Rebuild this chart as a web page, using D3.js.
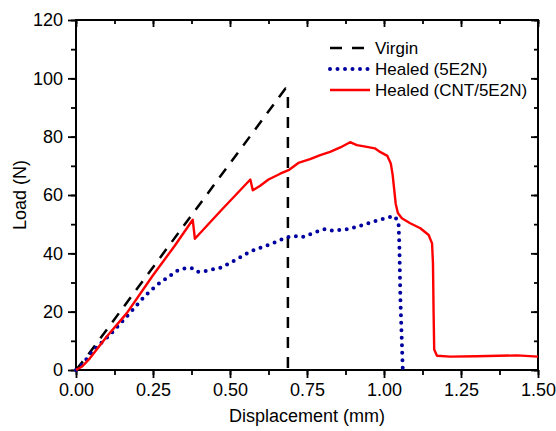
<!DOCTYPE html>
<html>
<head>
<meta charset="utf-8">
<script src="https://cdn.jsdelivr.net/npm/d3@7"></script>
<style>
  body { margin: 0; background: #fff; }
  text { font-family: "Liberation Sans", Arial, sans-serif; }
</style>
</head>
<body>
<div id="chart"></div>
<script>
// data: [displacement mm, load N]
var virgin = [[0, 0], [0.04, 5.3], [0.68, 96.5], [0.688, 95], [0.688, 0]];

var healed5E2N = [[0, 0], [0.018, 1.7], [0.062, 7.4], [0.11, 12], [0.154, 17.1], [0.188, 21.1],
  [0.224, 25.4], [0.262, 29.1], [0.305, 32.3], [0.332, 34.3], [0.36, 35], [0.381, 34.9],
  [0.397, 33.7], [0.424, 34], [0.473, 35.2], [0.517, 37.7], [0.541, 39.1], [0.565, 40.6],
  [0.592, 41.7], [0.638, 43.4], [0.684, 45.5], [0.709, 45.9], [0.733, 45.5], [0.782, 47.4],
  [0.809, 48.3], [0.834, 47.8], [0.885, 48.3], [0.934, 49.8], [0.982, 51.4], [1.033, 52.8],
  [1.047, 50.8], [1.05, 42.3], [1.053, 25.1], [1.061, 0]];

var healedCNT = [[0, 0], [0.02, 1.2], [0.045, 4], [0.1, 11.5], [0.165, 19.5], [0.25, 32.5],
  [0.32, 42.5], [0.379, 51.5], [0.386, 45], [0.47, 54.6], [0.566, 65.3], [0.574, 61.6],
  [0.598, 63.2], [0.625, 65.3], [0.663, 67.3], [0.69, 68.5], [0.722, 71], [0.76, 72.3],
  [0.793, 73.7], [0.825, 74.8], [0.858, 76.3], [0.89, 78.1], [0.912, 77.1], [0.94, 76.6],
  [0.97, 76], [0.99, 74.6], [1.011, 73.4], [1.022, 70.8], [1.028, 67], [1.033, 62],
  [1.038, 57], [1.045, 53.8], [1.058, 52], [1.085, 50.3], [1.118, 48.6], [1.145, 46.3],
  [1.156, 43.4], [1.159, 36.6], [1.161, 20], [1.163, 7], [1.172, 4.9], [1.215, 4.6],
  [1.3, 4.7], [1.432, 5], [1.5, 4.6]];

var legendLabels = ["Virgin", "Healed (5E2N)", "Healed (CNT/5E2N)"];
var xTicks = [0, 0.25, 0.5, 0.75, 1.0, 1.25, 1.5];
var yTicks = [0, 20, 40, 60, 80, 100, 120];

var margin = { top: 20, right: 18, bottom: 61, left: 76 },
    width = 556 - margin.left - margin.right,
    height = 431 - margin.top - margin.bottom;

var svg = d3.select("#chart")
  .append("svg")
    .attr("width", 556)
    .attr("height", 431)
  .append("g")
    .attr("transform", "translate(" + margin.left + "," + margin.top + ")");

var x = d3.scaleLinear().domain([0, 1.5]).range([0, width]);
var y = d3.scaleLinear().domain([0, 120]).range([height, 0]);

var xMinor = d3.range(0, 1.5001, 0.125);
var yMinor = d3.range(0, 120.01, 10);

function styleAxis(g) {
  g.select(".domain").remove();
  g.selectAll("line").attr("stroke", "#000").attr("stroke-width", 1.8);
  g.selectAll("text").style("font-size", "18px").attr("fill", "#000");
}

// minor ticks
svg.append("g").attr("transform", "translate(0," + height + ")")
  .call(d3.axisBottom(x).tickValues(xMinor).tickSize(5).tickFormat(""))
  .call(styleAxis);
svg.append("g")
  .call(d3.axisLeft(y).tickValues(yMinor).tickSize(5).tickFormat(""))
  .call(styleAxis);
svg.append("g")
  .call(d3.axisBottom(x).tickValues(xMinor).tickSize(4).tickFormat(""))
  .call(styleAxis);
svg.append("g").attr("transform", "translate(" + width + ",0)")
  .call(d3.axisRight(y).tickValues(yMinor).tickSize(-4).tickFormat(""))
  .call(styleAxis);

// major ticks with labels
svg.append("g").attr("transform", "translate(0," + height + ")")
  .call(d3.axisBottom(x).tickValues(xTicks).tickSize(8).tickPadding(5).tickFormat(d3.format(".2f")))
  .call(styleAxis);
svg.append("g")
  .call(d3.axisLeft(y).tickValues(yTicks).tickSize(8).tickPadding(5).tickFormat(d3.format("d")))
  .call(styleAxis);
svg.append("g")
  .call(d3.axisBottom(x).tickValues(xTicks).tickSize(7).tickFormat(""))
  .call(styleAxis);
svg.append("g").attr("transform", "translate(" + width + ",0)")
  .call(d3.axisRight(y).tickValues(yTicks).tickSize(-7).tickFormat(""))
  .call(styleAxis);

// frame
svg.append("rect")
  .attr("x", 0).attr("y", 0)
  .attr("width", width).attr("height", height)
  .attr("fill", "none")
  .attr("stroke", "#000")
  .attr("stroke-width", 2);

var line = d3.line()
  .x(function(d) { return x(d[0]); })
  .y(function(d) { return y(d[1]); });

var styles = [
  { stroke: "#000", width: 2.5, dash: "11,9", cap: "butt" },
  { stroke: "#0000a0", width: 4, dash: "0,7.5", cap: "round" },
  { stroke: "#ff0000", width: 2.4, dash: null, cap: "butt" }
];
var series = [virgin, healed5E2N, healedCNT];

svg.selectAll("path.series")
  .data(series)
  .enter()
  .append("path")
    .attr("class", "series")
    .attr("d", line)
    .attr("fill", "none")
    .attr("stroke", function(d, i) { return styles[i].stroke; })
    .attr("stroke-width", function(d, i) { return styles[i].width; })
    .attr("stroke-dasharray", function(d, i) { return styles[i].dash; })
    .attr("stroke-linecap", function(d, i) { return styles[i].cap; })
    .attr("stroke-linejoin", "round");

// legend
var legend = svg.selectAll("g.legend")
  .data(legendLabels)
  .enter()
  .append("g")
    .attr("class", "legend")
    .attr("transform", function(d, i) { return "translate(254," + (28 + i * 21) + ")"; });

legend.append("line")
  .attr("x1", 0).attr("x2", function(d, i) { return i == 1 ? 38 : 40; })
  .attr("y1", 0).attr("y2", 0)
  .attr("stroke", function(d, i) { return styles[i].stroke; })
  .attr("stroke-width", function(d, i) { return styles[i].width; })
  .attr("stroke-dasharray", function(d, i) { return i == 0 ? "12,10" : styles[i].dash; })
  .attr("stroke-linecap", function(d, i) { return styles[i].cap; });

legend.append("text")
  .attr("x", 45)
  .attr("y", 0)
  .attr("dy", "0.35em")
  .style("font-size", "17px")
  .text(function(d) { return d; });

// axis titles
svg.append("text")
  .attr("x", width / 2)
  .attr("y", height + 52)
  .attr("text-anchor", "middle")
  .style("font-size", "18px")
  .text("Displacement (mm)");

svg.append("text")
  .attr("transform", "translate(" + (-50) + "," + (height / 2) + ")rotate(-90)")
  .attr("text-anchor", "middle")
  .style("font-size", "18px")
  .text("Load (N)");
</script>
</body>
</html>
